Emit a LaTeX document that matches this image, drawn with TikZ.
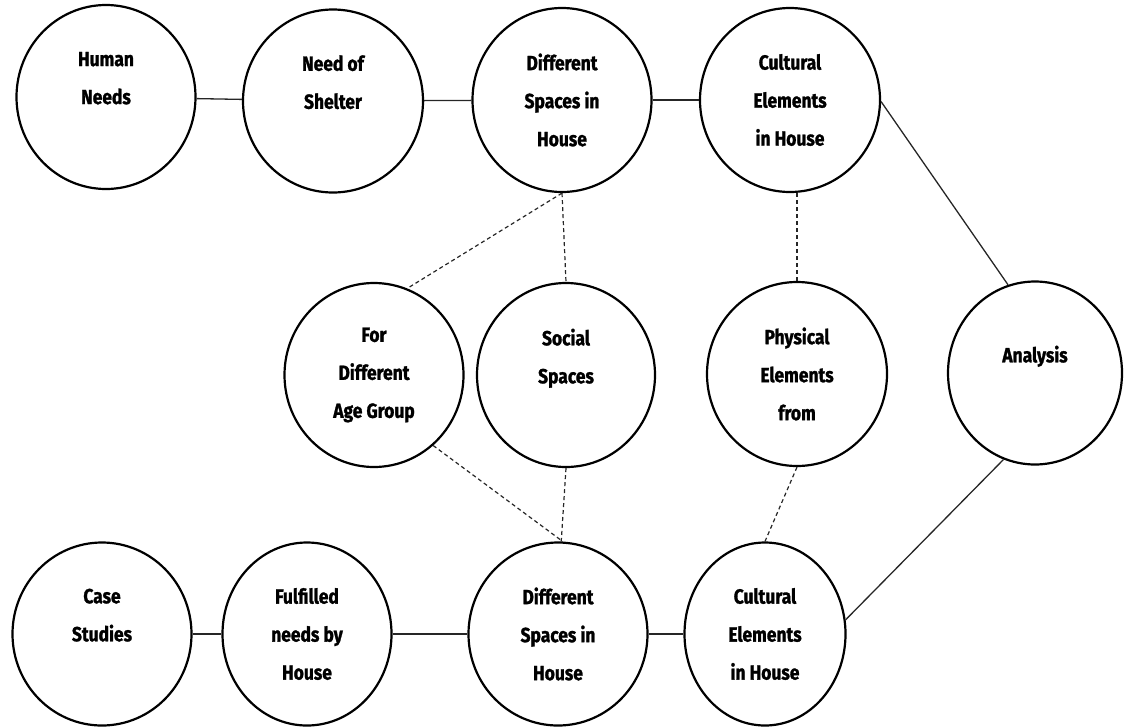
\documentclass[tikz,border=0pt]{standalone}
\usepackage{fontspec}
\newfontfamily\labelfont{Fira Sans}[FakeStretch=0.85, BoldFeatures={FakeBold=1.3}]
\usetikzlibrary{shapes.geometric}
\tikzset{
  bubble/.style={ellipse, draw=black, line width=2.2pt, inner sep=0pt,
    minimum width=179pt, minimum height=184pt, align=center,
    font=\labelfont\bfseries\fontsize{20.5}{38}\selectfont},
  link/.style={draw=black!85, line width=1.3pt},
  dlink/.style={draw=black!85, line width=1.2pt, dash pattern=on 4pt off 3pt}
}
\begin{document}
\begin{tikzpicture}[x=1pt,y=-1pt]
\useasboundingbox (0,0) rectangle (1124,726);
% top row
\node[bubble] (HN) at (106,97) {Human\\Needs\\\mbox{}};
\node[bubble, minimum width=180pt, minimum height=183pt] (NS) at (333,101) {Need of\\Shelter\\\mbox{}};
\node[bubble] (DS1) at (562,100) {Different\\Spaces in\\House};
\node[bubble, minimum width=180pt] (CE1) at (790,100) {Cultural\\Elements\\in House};
% middle row
\node[bubble] (FD) at (374,375) {For\\Different\\Age Group};
\node[bubble, minimum width=178pt] (SS) at (566,375) {Social\\Spaces\\\mbox{}};
\node[bubble, minimum width=180pt] (PE) at (797,374) {Physical\\Elements\\from};
\node[bubble, minimum width=174pt, minimum height=183pt] (AN) at (1035,373) {Analysis\\\mbox{}};
% bottom row
\node[bubble, minimum height=183pt] (CS) at (102,634) {Case\\Studies\\\mbox{}};
\node[bubble, minimum width=169pt, minimum height=183pt] (FN) at (307,634) {Fulfilled\\needs by\\House};
\node[bubble, minimum height=183pt] (DS2) at (558,634) {Different\\Spaces in\\House};
\node[bubble, minimum width=161pt, minimum height=183pt] (CE2) at (765,634) {Cultural\\Elements\\in House};
% solid connectors
\draw[link] (HN) -- (NS);
\draw[link] (NS) -- (DS1);
\draw[link] (DS1) -- (CE1);
\draw[link] (CS) -- (FN);
\draw[link] (FN) -- (DS2);
\draw[link] (DS2) -- (CE2);
\draw[link] (CE1.-1) -- (AN.107);
\draw[link] (AN.250) -- (CE2.10);
% dashed connectors
\draw[dlink] (DS1.south) -- (SS.north);
\draw[dlink] (DS1.south) -- (FD.69);
\draw[dlink] (FD.-50) -- (DS2.87);
\draw[dlink] (SS.south) -- (DS2.88);
\draw[dlink] (PE.north |- CE1.south) -- (PE.north);
\draw[dlink] (PE.south) -- (CE2.north);
\end{tikzpicture}
\end{document}
